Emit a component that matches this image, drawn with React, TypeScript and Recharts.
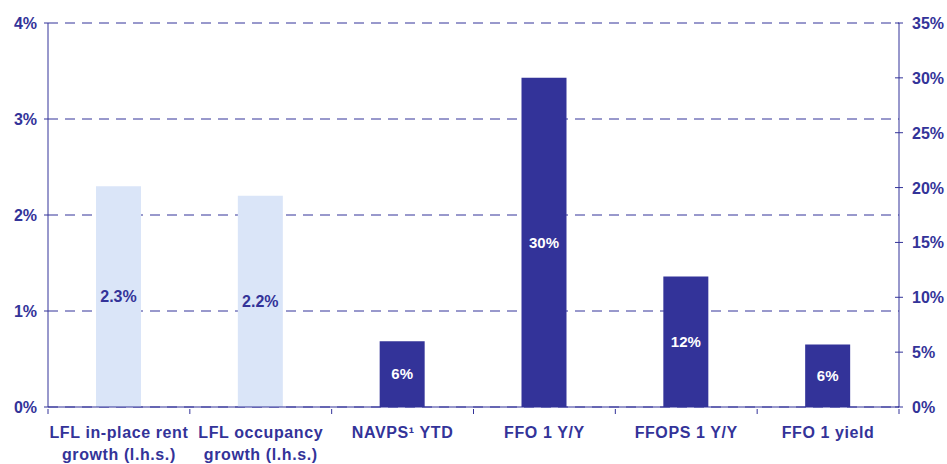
import React from "react";
import { ComposedChart, Bar, XAxis, YAxis, CartesianGrid, LabelList } from "recharts";

const NAVY = "#333399";
const LIGHT = "#DAE5F8";
const FONT = "'Liberation Sans', Arial, sans-serif";

const categories = [
  "LFL in-place rent\ngrowth (l.h.s.)",
  "LFL occupancy\ngrowth (l.h.s.)",
  "NAVPS\u00b9 YTD",
  "FFO 1 Y/Y",
  "FFOPS 1 Y/Y",
  "FFO 1 yield",
];
const lhsValues = [2.3, 2.2, null, null, null, null];
const rhsValues = [null, null, 6.0, 30.0, 11.9, 5.7];
const lhsLabels = ["2.3%", "2.2%", "", "", "", ""];
const rhsLabels = ["", "", "6%", "30%", "12%", "6%"];
const leftTicks = [0, 1, 2, 3, 4];
const rightTicks = [0, 5, 10, 15, 20, 25, 30, 35];

const data = categories.map((name, i) => ({
  name,
  lhs: lhsValues[i],
  rhs: rhsValues[i],
  lhsLabel: lhsLabels[i],
  rhsLabel: rhsLabels[i],
}));

const CategoryTick = (props: any) => {
  const { x, y, payload, index } = props;
  const half = payload?.offset || 851 / 12;
  const lines = String(payload.value).split("\n");
  return (
    <g>
      <line x1={x - half} x2={x - half} y1={y - 5} y2={y} stroke={NAVY} strokeWidth={1} />
      {index === categories.length - 1 && (
        <line x1={x + half} x2={x + half} y1={y - 5} y2={y} stroke={NAVY} strokeWidth={1} />
      )}
      <text x={x} y={y} textAnchor="middle" fill={NAVY} fontFamily={FONT} fontWeight="bold" fontSize={16} letterSpacing={0.6}>
        {lines.map((l, i) => (
          <tspan key={i} x={x} dy={i === 0 ? 24 : 22}>{l}</tspan>
        ))}
      </text>
    </g>
  );
};

const RightTick = (props: any) => {
  const { x, y, payload } = props;
  const axisX = x - 13;
  return (
    <g>
      <line x1={axisX - 4} x2={axisX + 4} y1={y} y2={y} stroke={NAVY} strokeWidth={1} />
      <text x={x} y={y} dy={6} textAnchor="start" fill={NAVY} fontFamily={FONT} fontWeight="bold" fontSize={16}>
        {payload.value}%
      </text>
    </g>
  );
};

export default function App() {
  return (
    <div style={{ position: "absolute", left: 0, top: 0, background: "#fff" }}>
      <ComposedChart width={947} height={464} data={data} margin={{ top: 23, right: 0, bottom: 0, left: 0 }}>
        <CartesianGrid xAxisId="a" yAxisId="left" vertical={false} stroke={NAVY} strokeDasharray="10 7" />
        <XAxis
          xAxisId="a"
          dataKey="name"
          height={57}
          interval={0}
          tickSize={5}
          tickLine={false}
          axisLine={{ stroke: NAVY }}
          tick={<CategoryTick />}
        />
        <XAxis xAxisId="b" dataKey="name" hide />
        <YAxis
          yAxisId="left"
          orientation="left"
          width={48}
          domain={[0, 4]}
          ticks={leftTicks}
          tickSize={4}
          tickMargin={7}
          tickFormatter={(v) => `${v}%`}
          axisLine={{ stroke: NAVY }}
          tickLine={{ stroke: NAVY }}
          tick={{ fill: NAVY, fontFamily: FONT, fontWeight: "bold", fontSize: 16 }}
        />
        <YAxis
          yAxisId="right"
          orientation="right"
          width={48}
          domain={[0, 35]}
          ticks={rightTicks}
          tickSize={4}
          tickMargin={9}
          tickLine={false}
          axisLine={{ stroke: NAVY }}
          tick={<RightTick />}
        />
        <Bar xAxisId="a" yAxisId="left" dataKey="lhs" fill={LIGHT} barSize={45} isAnimationActive={false}>
          <LabelList dataKey="lhsLabel" position="center" fill={NAVY} fontFamily={FONT} fontWeight="bold" fontSize={16} />
        </Bar>
        <Bar xAxisId="b" yAxisId="right" dataKey="rhs" fill={NAVY} barSize={45} isAnimationActive={false}>
          <LabelList dataKey="rhsLabel" position="center" fill="#fff" fontFamily={FONT} fontWeight="bold" fontSize={15} />
        </Bar>
      </ComposedChart>
    </div>
  );
}
